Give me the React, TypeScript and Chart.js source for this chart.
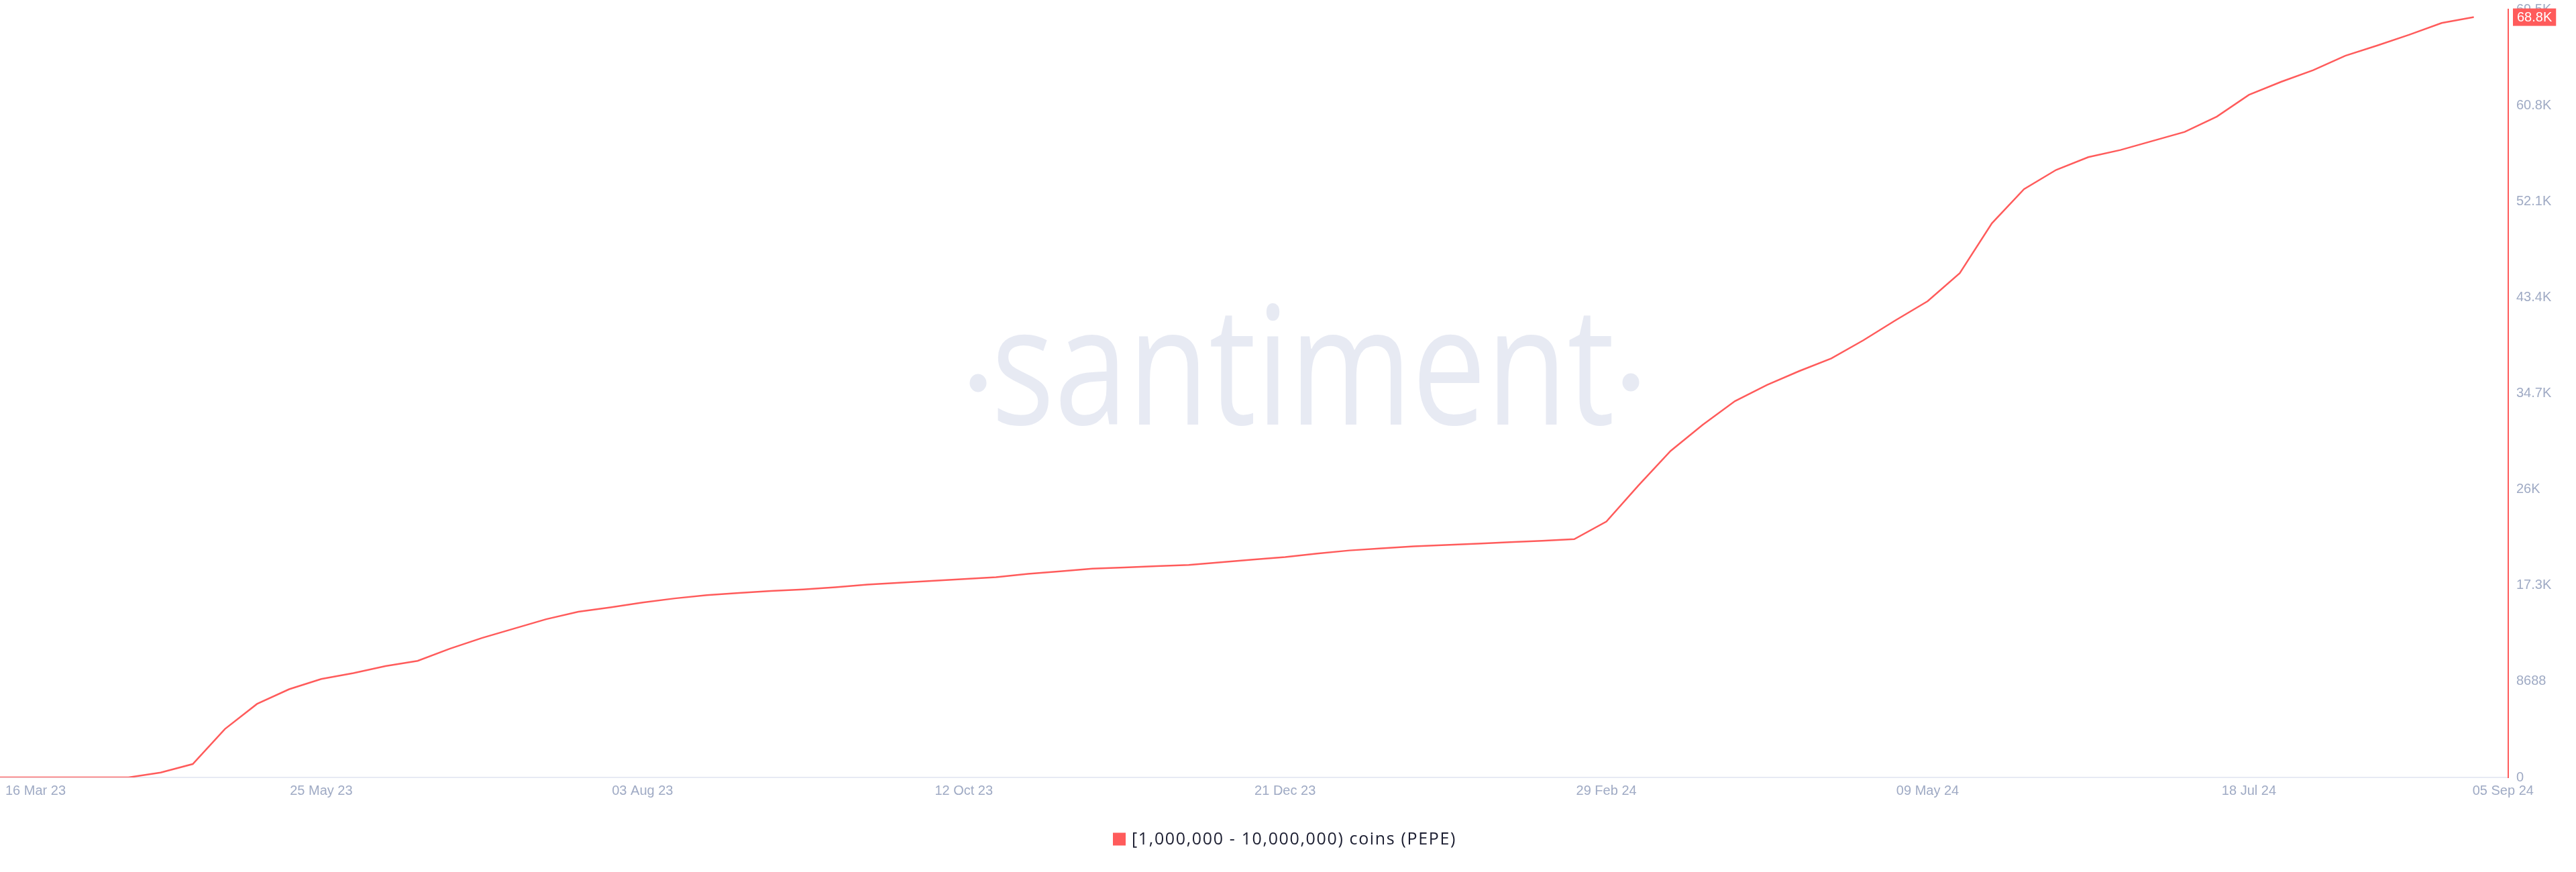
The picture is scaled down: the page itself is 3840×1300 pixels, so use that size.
import React, { useEffect, useRef } from 'react';
import { Chart, registerables } from 'chart.js';

Chart.register(...registerables);

// Weekly snapshots of the holder count
const weekDates = [
  '2023-03-16', '2023-03-23', '2023-03-30', '2023-04-06', '2023-04-13', '2023-04-20', '2023-04-27',
  '2023-05-04', '2023-05-11', '2023-05-18', '2023-05-25', '2023-06-01', '2023-06-08', '2023-06-15',
  '2023-06-22', '2023-06-29', '2023-07-06', '2023-07-13', '2023-07-20', '2023-07-27', '2023-08-03',
  '2023-08-10', '2023-08-17', '2023-08-24', '2023-08-31', '2023-09-07', '2023-09-14', '2023-09-21',
  '2023-09-28', '2023-10-05', '2023-10-12', '2023-10-19', '2023-10-26', '2023-11-02', '2023-11-09',
  '2023-11-16', '2023-11-23', '2023-11-30', '2023-12-07', '2023-12-14', '2023-12-21', '2023-12-28',
  '2024-01-04', '2024-01-11', '2024-01-18', '2024-01-25', '2024-02-01', '2024-02-08', '2024-02-15',
  '2024-02-22', '2024-02-29', '2024-03-07', '2024-03-14', '2024-03-21', '2024-03-28', '2024-04-04',
  '2024-04-11', '2024-04-18', '2024-04-25', '2024-05-02', '2024-05-09', '2024-05-16', '2024-05-23',
  '2024-05-30', '2024-06-06', '2024-06-13', '2024-06-20', '2024-06-27', '2024-07-04', '2024-07-11',
  '2024-07-18', '2024-07-25', '2024-08-01', '2024-08-08', '2024-08-15', '2024-08-22', '2024-08-29',
  '2024-09-05',
];

const holderCounts = [
  0, 0, 0, 0, 0, 440, 1210,
  4380, 6650, 7980, 8910, 9440, 10080, 10550,
  11650, 12620, 13470, 14320, 14990, 15390, 15830,
  16200, 16500, 16700, 16870, 17010, 17210, 17450,
  17620, 17790, 17950, 18120, 18420, 18650, 18890,
  19000, 19120, 19230, 19470, 19710, 19940, 20260,
  20540, 20730, 20910, 21030, 21150, 21290, 21420,
  21560, 23150, 26430, 29550, 31910, 34050, 35520,
  36770, 37920, 39560, 41370, 43100, 45630, 50150,
  53240, 54980, 56130, 56780, 57600, 58420, 59800,
  61770, 62950, 64000, 65310, 66240, 67220, 68270,
  68800,
];

const xTickDates = [
  '2023-03-16', '2023-05-25', '2023-08-03', '2023-10-12', '2023-12-21',
  '2024-02-29', '2024-05-09', '2024-07-18', '2024-09-05',
];
const xTickLabels = [
  '16 Mar 23', '25 May 23', '03 Aug 23', '12 Oct 23', '21 Dec 23',
  '29 Feb 24', '09 May 24', '18 Jul 24', '05 Sep 24',
];

const yTickValues = [0, 8688, 17376, 26064, 34752, 43440, 52128, 60816, 69504];
const yTickLabels = ['0', '8688', '17.3K', '26K', '34.7K', '43.4K', '52.1K', '60.8K', '69.5K'];

const seriesLabel = '[1,000,000 - 10,000,000) coins (PEPE)';

const RED = '#FF5B5B';
const AXIS_TEXT = '#9FAAC4';
const AXIS_LINE = '#E7EAF3';
const WATERMARK = '#E7EAF3';
const LEGEND_TEXT = '#1B1D30';
const TICK_FONT = '20px "Liberation Sans", Arial, sans-serif';

const DAY_MS = 86400000;
const dayOf = (iso: string) => (Date.parse(iso) - Date.parse(weekDates[0])) / DAY_MS;
// the time axis runs a little past the final weekly snapshot
const xAxisEnd = dayOf(weekDates[weekDates.length - 1]) + 7.5;

const formatCompact = (v: number) =>
  v < 10000 ? String(v) : `${Math.floor(v / 100) / 10}K`;

// faint brand mark behind the series
const watermarkPlugin = {
  id: 'brandWatermark',
  beforeDatasetsDraw(chart: any) {
    const { ctx, width } = chart;
    const cx = width / 2 + 25;
    const baseline = 633;
    ctx.save();
    ctx.fillStyle = WATERMARK;
    ctx.font = '400 245px "Open Sans", sans-serif';
    ctx.textBaseline = 'alphabetic';
    ctx.textAlign = 'left';
    const word = 'santiment';
    const m = ctx.measureText(word);
    const ink = m.actualBoundingBoxLeft + m.actualBoundingBoxRight;
    const targetWidth = 915;
    const sx = targetWidth / ink;
    ctx.save();
    ctx.translate(cx - targetWidth / 2, baseline);
    ctx.scale(sx, 1);
    ctx.fillText(word, m.actualBoundingBoxLeft, 0);
    ctx.restore();
    // the two middle dots on either side of the word
    ctx.beginPath();
    ctx.ellipse(cx - 487, 571, 12.5, 13.5, 0, 0, Math.PI * 2);
    ctx.ellipse(cx + 486, 570, 12.5, 13.5, 0, 0, Math.PI * 2);
    ctx.fill();
    ctx.restore();
  },
};

// date labels under the time axis; the outer two are pulled inside the frame
const xLabelsPlugin = {
  id: 'dateLabels',
  afterDraw(chart: any) {
    const { ctx, chartArea, scales } = chart;
    const x = scales.x;
    ctx.save();
    ctx.font = TICK_FONT;
    ctx.fillStyle = AXIS_TEXT;
    ctx.textBaseline = 'middle';
    const y = chartArea.bottom + 20;
    xTickDates.forEach((d, i) => {
      const px = x.getPixelForValue(dayOf(d));
      let tx = px;
      let align: CanvasTextAlign = 'center';
      if (i === 0) {
        align = 'left';
        tx = px + 8;
      } else if (i === xTickDates.length - 1) {
        align = 'left';
        tx = px - 2;
      }
      ctx.textAlign = align;
      ctx.fillText(xTickLabels[i], tx, y);
    });
    ctx.restore();
  },
};

// red tag with the latest value on the right axis
const lastValuePlugin = {
  id: 'lastValueTag',
  afterDraw(chart: any) {
    const { ctx, chartArea, scales } = chart;
    const v = holderCounts[holderCounts.length - 1];
    const py = scales.y.getPixelForValue(v);
    const text = formatCompact(v);
    ctx.save();
    ctx.font = TICK_FONT;
    const tw = ctx.measureText(text).width;
    const bx = chartArea.right + 7;
    ctx.fillStyle = RED;
    ctx.fillRect(bx, py - 13, tw + 12, 26);
    ctx.fillStyle = '#FFFFFF';
    ctx.textAlign = 'left';
    ctx.textBaseline = 'middle';
    ctx.fillText(text, bx + 6, py + 1);
    ctx.restore();
  },
};

// single-series legend centred under the chart
const legendPlugin = {
  id: 'seriesLegend',
  afterDraw(chart: any) {
    const { ctx, width } = chart;
    const ds = chart.data.datasets[0];
    const cy = 1251;
    const box = 19;
    const gap = 9;
    ctx.save();
    ctx.font = '400 25px "Open Sans", sans-serif';
    const base = ctx.measureText(ds.label).width;
    const targetText = 484;
    const spacing = Math.max(0, (targetText - base) / ds.label.length);
    (ctx as any).letterSpacing = `${spacing}px`;
    const tw = ctx.measureText(ds.label).width;
    const total = box + gap + tw;
    const lx = width / 2 - 5 - total / 2;
    ctx.fillStyle = ds.borderColor;
    ctx.fillRect(lx, cy - box / 2, box, box);
    ctx.fillStyle = LEGEND_TEXT;
    ctx.textAlign = 'left';
    ctx.textBaseline = 'middle';
    ctx.fillText(ds.label, lx + box + gap, cy + 1);
    ctx.restore();
  },
};

export default function App() {
  const canvasRef = useRef<HTMLCanvasElement>(null);

  useEffect(() => {
    document.body.style.margin = '0';
    const canvas = canvasRef.current;
    if (!canvas) return;

    const chart = new Chart(canvas, {
      type: 'line',
      data: {
        datasets: [
          {
            label: seriesLabel,
            data: weekDates.map((d, i) => ({ x: dayOf(d), y: holderCounts[i] })),
            borderColor: RED,
            backgroundColor: RED,
            borderWidth: 2.5,
            pointRadius: 0,
            pointHoverRadius: 0,
            tension: 0,
            fill: false,
          },
        ],
      },
      options: {
        animation: false,
        responsive: true,
        maintainAspectRatio: false,
        devicePixelRatio: 1,
        layout: { padding: { top: 14, bottom: 141, left: 0, right: 0 } },
        plugins: {
          legend: { display: false },
          tooltip: { enabled: false },
        },
        scales: {
          x: {
            type: 'linear',
            min: 0,
            max: xAxisEnd,
            grid: { display: false, drawTicks: false },
            border: { display: true, color: AXIS_LINE, width: 2 },
            ticks: { display: false },
            afterFit: (s: any) => {
              s.height = 0;
              s.paddingLeft = 0;
              s.paddingRight = 0;
            },
          },
          y: {
            type: 'linear',
            position: 'right',
            min: yTickValues[0],
            max: yTickValues[yTickValues.length - 1],
            afterBuildTicks: (s: any) => {
              s.ticks = yTickValues.map((value) => ({ value }));
            },
            afterFit: (s: any) => {
              s.width = 101;
              s.paddingTop = 0;
              s.paddingBottom = 0;
            },
            grid: { display: false, drawTicks: false },
            border: { display: true, color: RED, width: 2 },
            ticks: {
              autoSkip: false,
              padding: 12,
              color: AXIS_TEXT,
              font: { family: '"Liberation Sans", Arial, sans-serif', size: 20 },
              callback: (_v: any, i: number) => yTickLabels[i] ?? '',
            },
          },
        },
      },
      plugins: [watermarkPlugin, xLabelsPlugin, lastValuePlugin, legendPlugin],
    } as any);

    return () => chart.destroy();
  }, []);

  return (
    <div style={{ width: 3840, height: 1300, position: 'relative', background: '#FFFFFF' }}>
      <canvas ref={canvasRef} />
    </div>
  );
}
